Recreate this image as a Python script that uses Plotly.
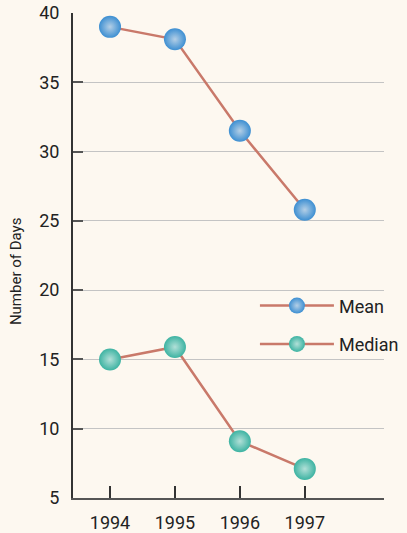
import plotly.graph_objects as go

years = [1994, 1995, 1996, 1997]
mean_days = [39.0, 38.1, 31.5, 25.8]
median_days = [15.0, 15.9, 9.1, 7.1]
y_ticks = [5, 10, 15, 20, 25, 30, 35, 40]

line_color = "#c9796a"
bg = "#fdf8f0"
font = "Roboto"

fig = go.Figure()
fig.add_trace(go.Scatter(
    x=years, y=mean_days, name="Mean", mode="lines+markers",
    line=dict(color=line_color, width=2.5),
    marker=dict(size=22, color="#3d8fd2", line=dict(width=0),
                gradient=dict(type="radial", color="#b4cfe6")),
    cliponaxis=False, legendgroup="a",
))
fig.add_trace(go.Scatter(
    x=years, y=median_days, name="Median", mode="lines+markers",
    line=dict(color=line_color, width=2.5),
    marker=dict(size=22, color="#3db3a2", line=dict(width=0),
                gradient=dict(type="radial", color="#b2e0d8")),
    cliponaxis=False, legendgroup="b",
))

fig.add_annotation(text="Number of Days", textangle=-90, xref="paper", yref="paper",
                   x=-0.183, y=0.468, xanchor="center", yanchor="middle",
                   showarrow=False, font=dict(size=15, color="#222"))

fig.update_layout(
    width=407, height=533,
    margin=dict(l=73, r=23, t=13, b=35, autoexpand=False),
    paper_bgcolor=bg, plot_bgcolor=bg,
    font=dict(family=font, size=18, color="#222"),
    showlegend=True,
    legend=dict(x=0.585, y=0.357, xanchor="left", yanchor="middle",
                bgcolor="rgba(0,0,0,0)", font=dict(size=18),
                itemwidth=74, tracegroupgap=12, itemsizing="trace"),
    xaxis=dict(range=[1993.43, 1998.22], tickvals=years, ticktext=[str(y) for y in years],
               showgrid=False, zeroline=False, showline=True, linecolor="#555", linewidth=2,
               ticks="inside", ticklen=12, tickwidth=2, tickcolor="#333",
               ticklabelstandoff=7, automargin=False),
    yaxis=dict(range=[5, 40], tickvals=y_ticks, showgrid=True, gridcolor="#c4c4c4", gridwidth=1,
               zeroline=False, showline=True, linecolor="#333", linewidth=2,
               ticks="inside", ticklen=10, tickwidth=2, tickcolor="#555",
               ticklabelstandoff=8, automargin=False),
)

fig.write_html("out.html", config={"displayModeBar": False},
               post_script="document.body.style.margin='0';document.body.style.overflow='hidden';")
